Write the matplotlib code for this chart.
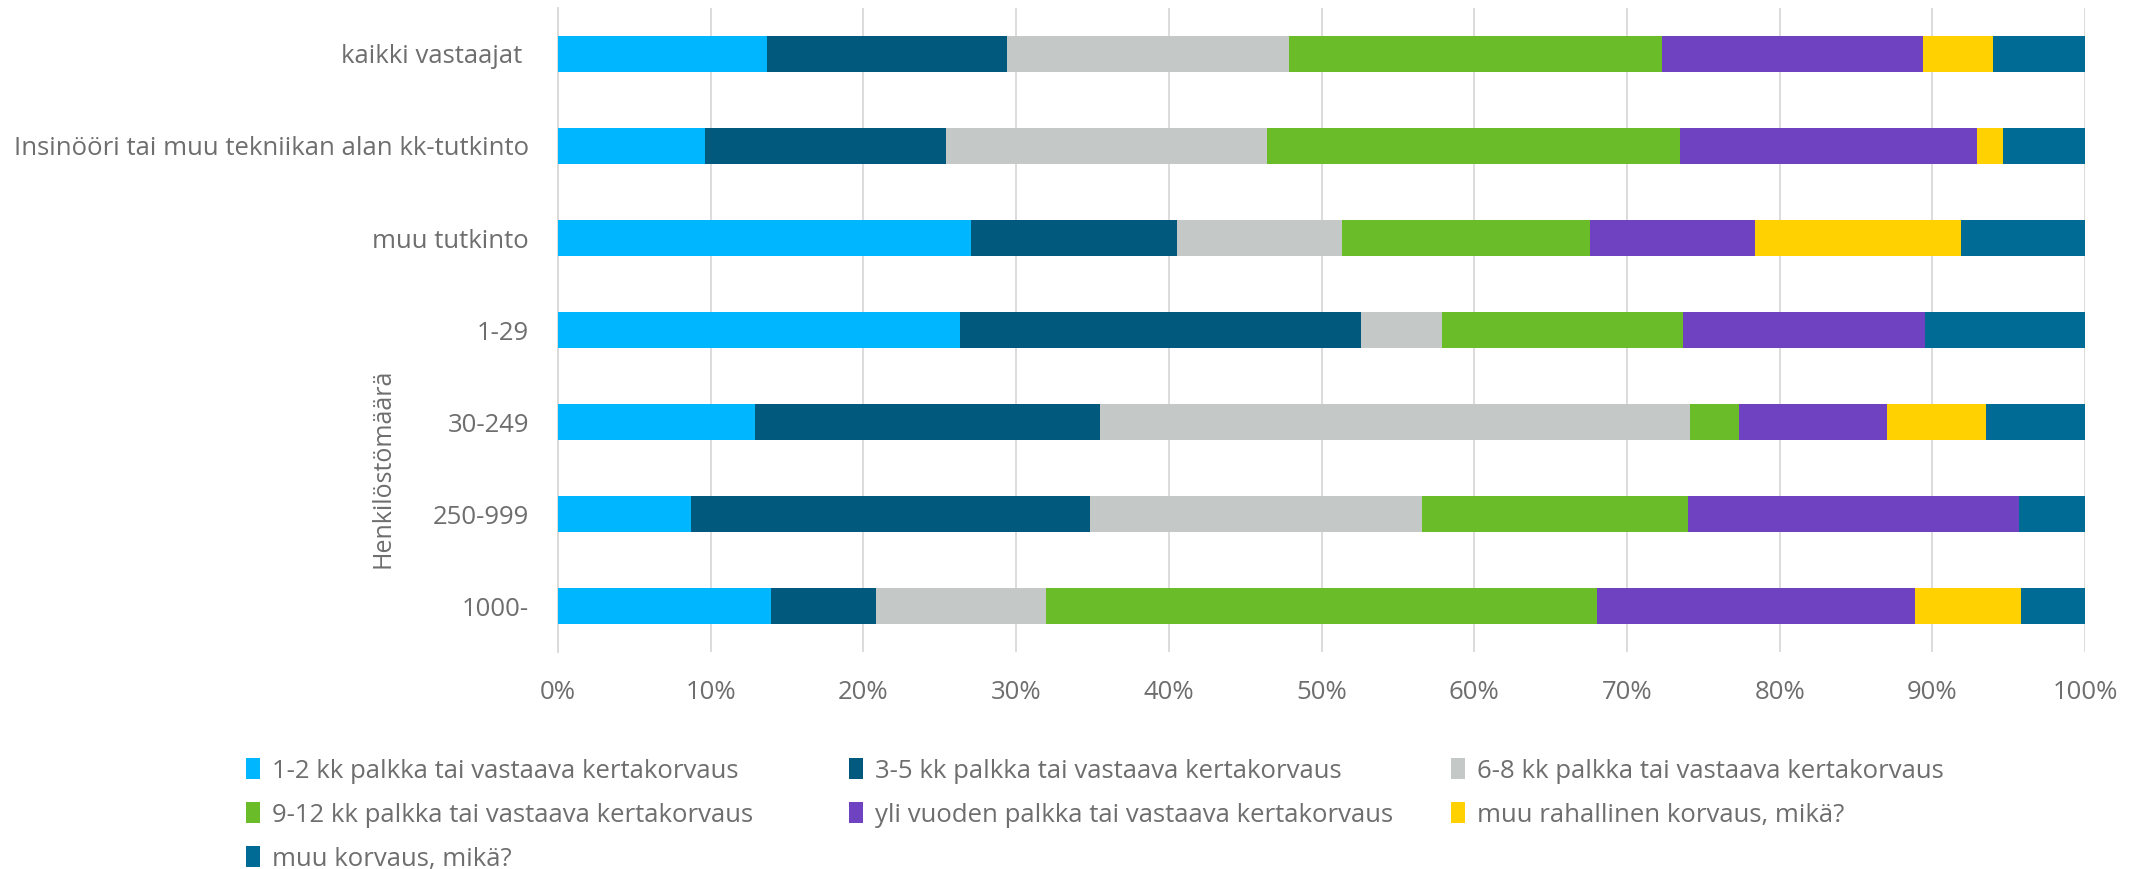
import matplotlib
matplotlib.use('Agg')
import matplotlib.pyplot as plt
import numpy as np
from matplotlib.patches import Patch
from matplotlib.transforms import blended_transform_factory

plt.rcParams['font.family'] = ['Open Sans', 'DejaVu Sans']

# categories, top to bottom
categories = ['kaikki vastaajat ', 'Insinööri tai muu tekniikan alan kk-tutkinto', 'muu tutkinto',
              '1-29', '30-249', '250-999', '1000-']

series_names = ['1-2 kk palkka tai vastaava kertakorvaus',
                '3-5 kk palkka tai vastaava kertakorvaus',
                '6-8 kk palkka tai vastaava kertakorvaus',
                '9-12 kk palkka tai vastaava kertakorvaus',
                'yli vuoden palkka tai vastaava kertakorvaus',
                'muu rahallinen korvaus, mikä?',
                'muu korvaus, mikä?']

# shares in percent, one list per category (same order as series_names)
kaikki = [13.7, 15.7, 18.5, 24.4, 17.1, 4.6, 6.0]
insinoori = [9.6, 15.8, 21.0, 27.1, 19.4, 1.7, 5.4]
muu_tutkinto = [27.0, 13.5, 10.8, 16.2, 10.8, 13.5, 8.1]
koko_1_29 = [26.3, 26.3, 5.3, 15.8, 15.8, 0.0, 10.5]
koko_30_249 = [12.9, 22.6, 38.7, 3.2, 9.7, 6.5, 6.5]
koko_250_999 = [8.7, 26.1, 21.7, 17.4, 21.7, 0.0, 4.3]
koko_1000 = [13.9, 6.9, 11.1, 36.1, 20.8, 6.9, 4.2]

colors = ['#00B7FF', '#015A7D', '#C4C9C8', '#6BBC29', '#6F42C1', '#FFD100', '#006B95']
text_color = '#6E6E6E'
fs = 18.5

data = np.array([kaikki, insinoori, muu_tutkinto, koko_1_29, koko_30_249, koko_250_999, koko_1000])
data = data / data.sum(axis=1, keepdims=True) * 100

fig = plt.figure(figsize=(21.44, 8.69), dpi=100)
ax = fig.add_axes([0.2603, 0.2497, 0.7122, 0.7411])

y = np.arange(len(categories))
left = np.zeros(len(categories))
for i, name in enumerate(series_names):
    ax.barh(y, data[:, i], left=left, height=0.4, color=colors[i], label=name, zorder=3)
    left += data[:, i]

ax.set_xlim(0, 100)
ax.set_ylim(len(categories) - 0.5, -0.5)
ax.set_xticks(np.arange(0, 101, 10))
ax.set_xticklabels([f'{v}%' for v in range(0, 101, 10)])
ax.set_yticks(y)
ax.set_yticklabels(categories)
ax.tick_params(axis='x', length=0, pad=20, labelsize=fs, labelcolor=text_color)
ax.tick_params(axis='y', length=0, pad=21, labelsize=fs, labelcolor=text_color)
ax.grid(axis='x', color='#D9D9D9', linewidth=1.3, zorder=0)
for s in ['top', 'right', 'bottom']:
    ax.spines[s].set_visible(False)
ax.spines['left'].set_color('#D9D9D9')
ax.spines['left'].set_linewidth(1.3)

# group label for company size rows
trans = blended_transform_factory(fig.transFigure, ax.transData)
ax.text(0.1786, 4.5, 'Henkilöstömäärä', transform=trans, rotation=90,
        ha='center', va='center', fontsize=fs - 0.5, color=text_color)

# legend: three columns filled row-wise like the original
handles = [Patch(facecolor=c) for c in colors]
col_x = [246 / 2144, 849 / 2144, 1451 / 2144]
for c in range(3):
    idx = list(range(c, len(series_names), 3))
    leg = fig.legend([handles[i] for i in idx], [series_names[i] for i in idx],
                     loc='upper left', bbox_to_anchor=(col_x[c], 1 - 758 / 869),
                     frameon=False, fontsize=fs, labelcolor=text_color,
                     handlelength=0.55, handleheight=0.9, handletextpad=0.45,
                     labelspacing=0.72, borderpad=0, borderaxespad=0)

fig.savefig('out.png', dpi=100, facecolor='white')
